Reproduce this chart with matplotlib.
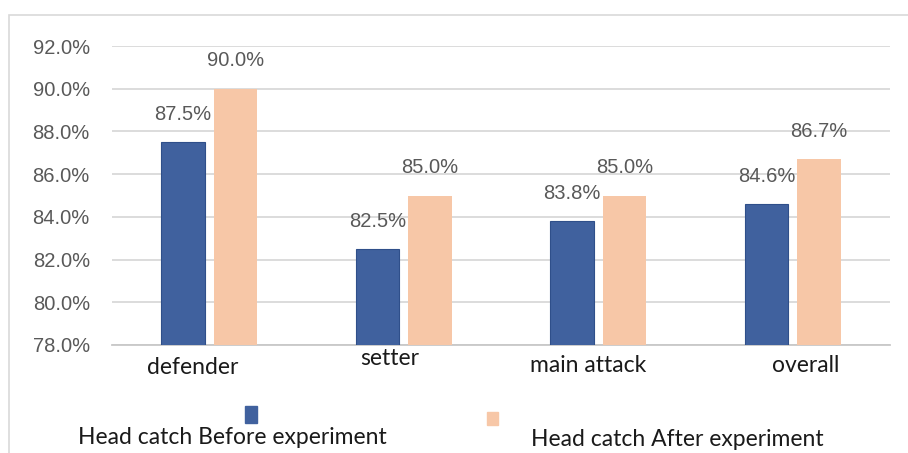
import matplotlib
matplotlib.use("Agg")
import matplotlib.pyplot as plt
from matplotlib.patches import Rectangle
import numpy as np

categories = ["defender", "setter", "main attack", "overall"]
before = [87.5, 82.5, 83.8, 84.6]
after = [90.0, 85.0, 85.0, 86.7]
y_ticks = [78, 80, 82, 84, 86, 88, 90, 92]
series_names = ["Head catch Before experiment", "Head catch After experiment"]

BLUE = "#40619E"
ORANGE = "#F7C7A7"
GRID = "#D9D9D9"
LABEL_GRAY = "#595959"
NUM_FONT = "Liberation Sans"
CAT_FONT = "Lato"

fig = plt.figure(figsize=(9.08, 4.53), dpi=100)
fig.patch.set_facecolor("white")

# outer chart frame
fig.patches.append(Rectangle((9 / 908, -0.05), 1.2, 1 - 15 / 453 + 0.05,
                             transform=fig.transFigure, fill=False,
                             edgecolor="#D9D9D9", linewidth=1.2))

ax = fig.add_axes([112 / 908, 1 - 345 / 453, (890 - 112) / 908, (345 - 46) / 453])
x = np.arange(len(categories))
w = 0.225
off = 0.135
b1 = ax.bar(x - off, before, w, bottom=0, color=BLUE, edgecolor="#2F4F8A", linewidth=0.8, zorder=3)
b2 = ax.bar(x + off, after, w, bottom=0, color=ORANGE, zorder=3)

ax.set_ylim(78, 92)
ax.set_xlim(-0.5, len(categories) - 0.5)
ax.set_yticks(y_ticks)
ax.set_yticklabels([f"{v:.1f}%" for v in y_ticks], fontsize=14.5, color=LABEL_GRAY,
                   family=NUM_FONT)
ax.tick_params(axis="y", length=0, pad=16)
ax.tick_params(axis="x", length=0)
ax.set_xticks([])
ax.grid(axis="y", color=GRID, linewidth=1.3, zorder=0)
for s in ["top", "right", "left"]:
    ax.spines[s].set_visible(False)
ax.spines["bottom"].set_color("#C8C8C8")
ax.spines["bottom"].set_linewidth(1.3)

for bars, vals in ((b1, before), (b2, after)):
    for bar, v in zip(bars, vals):
        ax.annotate(f"{v:.1f}%", (bar.get_x() + bar.get_width() / 2, v),
                    xytext=(0, 20), textcoords="offset points",
                    ha="center", va="center", fontsize=14.5,
                    color=LABEL_GRAY, family=NUM_FONT, zorder=4)

# category labels with small individual nudges
nudges = [(-12, -16), (-10, -10), (-7, -15), (9, -15)]
for xi, name, (dx, dy) in zip(x, categories, nudges):
    ax.annotate(name, (xi, 78), xytext=(dx, dy), textcoords="offset points",
                ha="center", va="center", fontsize=16.5, color="#1A1A1A",
                family=CAT_FONT, annotation_clip=False)

# legend
fig.patches.append(Rectangle((245 / 908, 1 - 423 / 453), 12 / 908, 17 / 453,
                             transform=fig.transFigure, color=BLUE))
fig.patches.append(Rectangle((487 / 908, 1 - 425 / 453), 11 / 908, 13 / 453,
                             transform=fig.transFigure, color=ORANGE))
fig.text(232 / 908, 1 - 437 / 453, series_names[0], ha="center", va="center",
         fontsize=16.5, color="#1A1A1A", family=CAT_FONT)
fig.text(677 / 908, 1 - 440 / 453, series_names[1], ha="center", va="center",
         fontsize=16.5, color="#1A1A1A", family=CAT_FONT)

fig.savefig("out.png", dpi=100, facecolor="white")
